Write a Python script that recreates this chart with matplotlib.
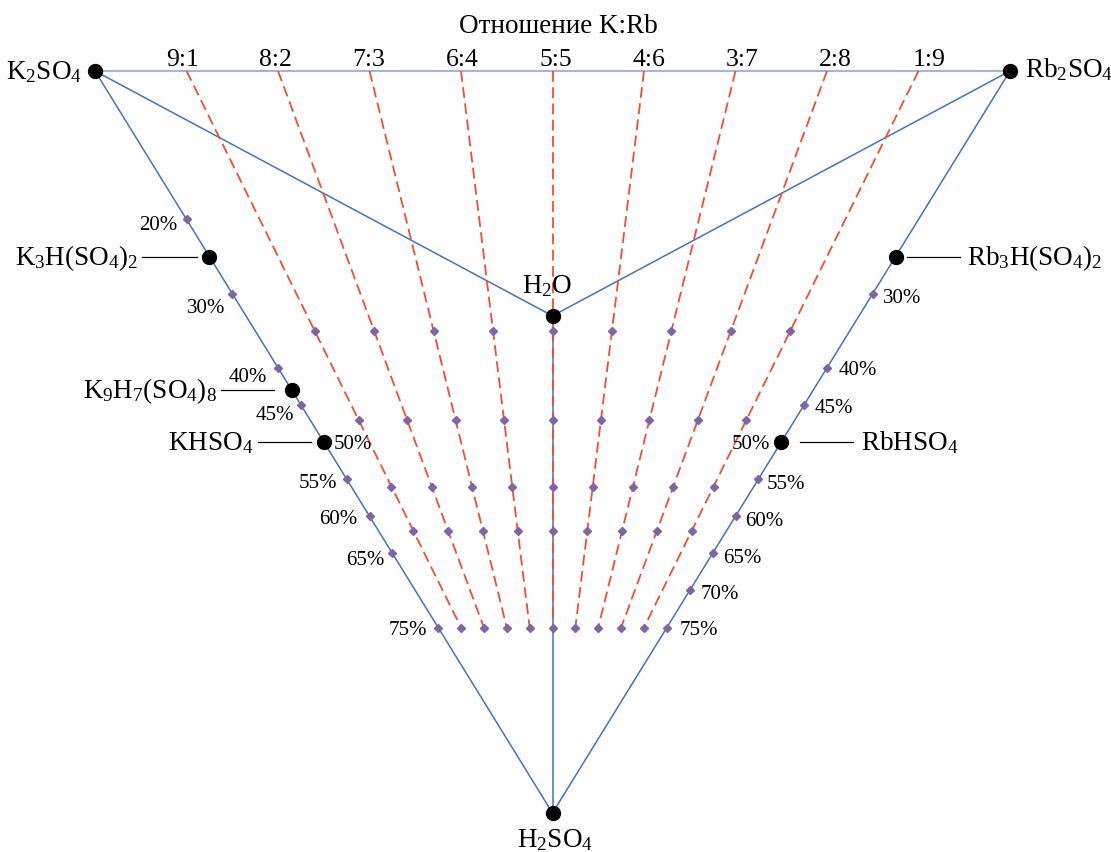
import matplotlib.pyplot as plt

plt.rcParams['font.family'] = ['Liberation Serif', 'DejaVu Serif']
plt.rcParams['mathtext.fontset'] = 'custom'
plt.rcParams['mathtext.rm'] = 'Liberation Serif'
plt.rcParams['mathtext.it'] = 'Liberation Serif:italic'

# --- данные ---
title = "Отношение K:Rb"
ratio_labels = ["9:1", "8:2", "7:3", "6:4", "5:5", "4:6", "3:7", "2:8", "1:9"]
rb_share = [0.1, 0.2, 0.3, 0.4, 0.5, 0.6, 0.7, 0.8, 0.9]
acid_levels = [0.35, 0.47, 0.56, 0.62, 0.75]  # доля H2SO4 на сечениях
left_pct = [20, 30, 40, 45, 50, 55, 60, 65, 75]
right_pct = [30, 40, 45, 50, 55, 60, 65, 70, 75]
k_salts = [r"K$_3$H(SO$_4$)$_2$", r"K$_9$H$_7$(SO$_4$)$_8$", r"KHSO$_4$"]
k_salt_acid = [0.25, 0.43, 0.50]
rb_salts = [r"Rb$_3$H(SO$_4$)$_2$", r"RbHSO$_4$"]
rb_salt_acid = [0.25, 0.50]

# --- оформление ---
BLUE = "#4472c4"
LIGHT_BLUE = "#a3b4de"
RED = "#f24e33"
PURPLE = "#8064a8"
PX_X = 1 / 915  # один пиксель в единицах оси
PX_Y = 1 / 742

K_PT = (0.0, 1.0)
RB_PT = (1.0, 1.0)
ACID_PT = (0.5, 0.0)
WATER_PT = (0.5, 0.67)


def pos(acid, rb):
    """Точка в треугольнике K2SO4-Rb2SO4-H2SO4."""
    return (1 - acid) * rb + 0.5 * acid, 1 - acid


def put(x, y, s, dx, dy, **kw):
    """Текст со смещением в пикселях (dy вниз)."""
    ax.text(x + dx * PX_X, y - dy * PX_Y, s, **kw)


fig = plt.figure(figsize=(11.11, 8.53), dpi=100)
ax = fig.add_axes([95 / 1111, 39 / 853, 915 / 1111, 742 / 853])
ax.set_xlim(0, 1)
ax.set_ylim(0, 1)
ax.axis("off")

# каркас
ax.plot([K_PT[0], RB_PT[0]], [K_PT[1], RB_PT[1]], color=LIGHT_BLUE, lw=1.5, clip_on=False)
for a, b in [(K_PT, ACID_PT), (RB_PT, ACID_PT), (K_PT, WATER_PT), (RB_PT, WATER_PT), (WATER_PT, ACID_PT)]:
    ax.plot([a[0], b[0]], [a[1], b[1]], color=BLUE, lw=1.1, zorder=2, clip_on=False)

# лучи постоянного отношения K:Rb
for rb, lab in zip(rb_share, ratio_labels):
    x0, y0 = pos(0, rb)
    x1, y1 = pos(acid_levels[-1], rb)
    ax.plot([x0, x1], [y0, y1], color=RED, lw=1.3, dashes=(6, 3), zorder=3)
    pts = [pos(a, rb) for a in acid_levels]
    ax.plot([p[0] for p in pts], [p[1] for p in pts], ls="none", marker="D", ms=4,
            color=PURPLE, zorder=4)
    xl = 0.5 + (rb - 0.5) * 1.02
    put(xl, 1.0, lab, 3, -6, ha="center", va="baseline", fontsize=18.5)

# метки на рёбрах
left_off = {20: (-28, 3), 30: (-26, 12), 40: (-30, 7), 45: (-26, 8), 50: (29, 0),
            55: (-29, 1), 60: (-31, 0), 65: (-27, 4), 75: (-30, 0)}
right_off = {30: (29, 2), 40: (31, 0), 45: (30, 1), 50: (-30, 0), 55: (28, 2),
             60: (29, 2), 65: (30, 2), 70: (30, 1), 75: (32, 0)}
for p in left_pct:
    x, y = pos(p / 100, 0)
    ax.plot(x, y, marker="D", ms=4, color=PURPLE, zorder=4)
    dx, dy = left_off[p]
    put(x, y, f"{p}%", dx, dy + 2, ha="center", va="center", fontsize=15)
for p in right_pct:
    x, y = pos(p / 100, 1)
    ax.plot(x, y, marker="D", ms=4, color=PURPLE, zorder=4)
    dx, dy = right_off[p]
    put(x, y, f"{p}%", dx, dy + 2, ha="center", va="center", fontsize=15)

# соединения с выносками
k_lead = [(-67, -12, -71), (-71, -18, -75), (-66, -13, -70)]
for name, a, (l0, l1, tx) in zip(k_salts, k_salt_acid, k_lead):
    x, y = pos(a, 0)
    ax.plot([x + l0 * PX_X, x + l1 * PX_X], [y, y], color="black", lw=0.9)
    ax.plot(x, y, "o", ms=10, color="black", zorder=5)
    put(x, y, name, tx, 7.5, ha="right", va="baseline", fontsize=19.5)

rb_lead = [(11, 64, 71), (19, 72, 80)]
for name, a, (l0, l1, tx) in zip(rb_salts, rb_salt_acid, rb_lead):
    x, y = pos(a, 1)
    ax.plot([x + l0 * PX_X, x + l1 * PX_X], [y, y], color="black", lw=0.9)
    ax.plot(x, y, "o", ms=10, color="black", zorder=5)
    put(x, y, name, tx, 7.5, ha="left", va="baseline", fontsize=19.5)

# вершины
for (x, y) in [K_PT, RB_PT, ACID_PT, WATER_PT]:
    ax.plot(x, y, "o", ms=10, color="black", zorder=5, clip_on=False)
put(*K_PT, r"K$_2$SO$_4$", -13, 7.3, ha="right", va="baseline", fontsize=19.5)
put(*RB_PT, r"Rb$_2$SO$_4$", 15, 5, ha="left", va="baseline", fontsize=19.5)
put(*WATER_PT, r"H$_2$O", -5, -24, ha="center", va="baseline", fontsize=19.5)
put(*ACID_PT, r"H$_2$SO$_4$", 2.5, 33, ha="center", va="baseline", fontsize=19.5)

fig.text(558.5 / 1111, 1 - 33 / 853, title, ha="center", va="baseline", fontsize=19.5)

fig.savefig("out.png", dpi=100)
plt.close(fig)
